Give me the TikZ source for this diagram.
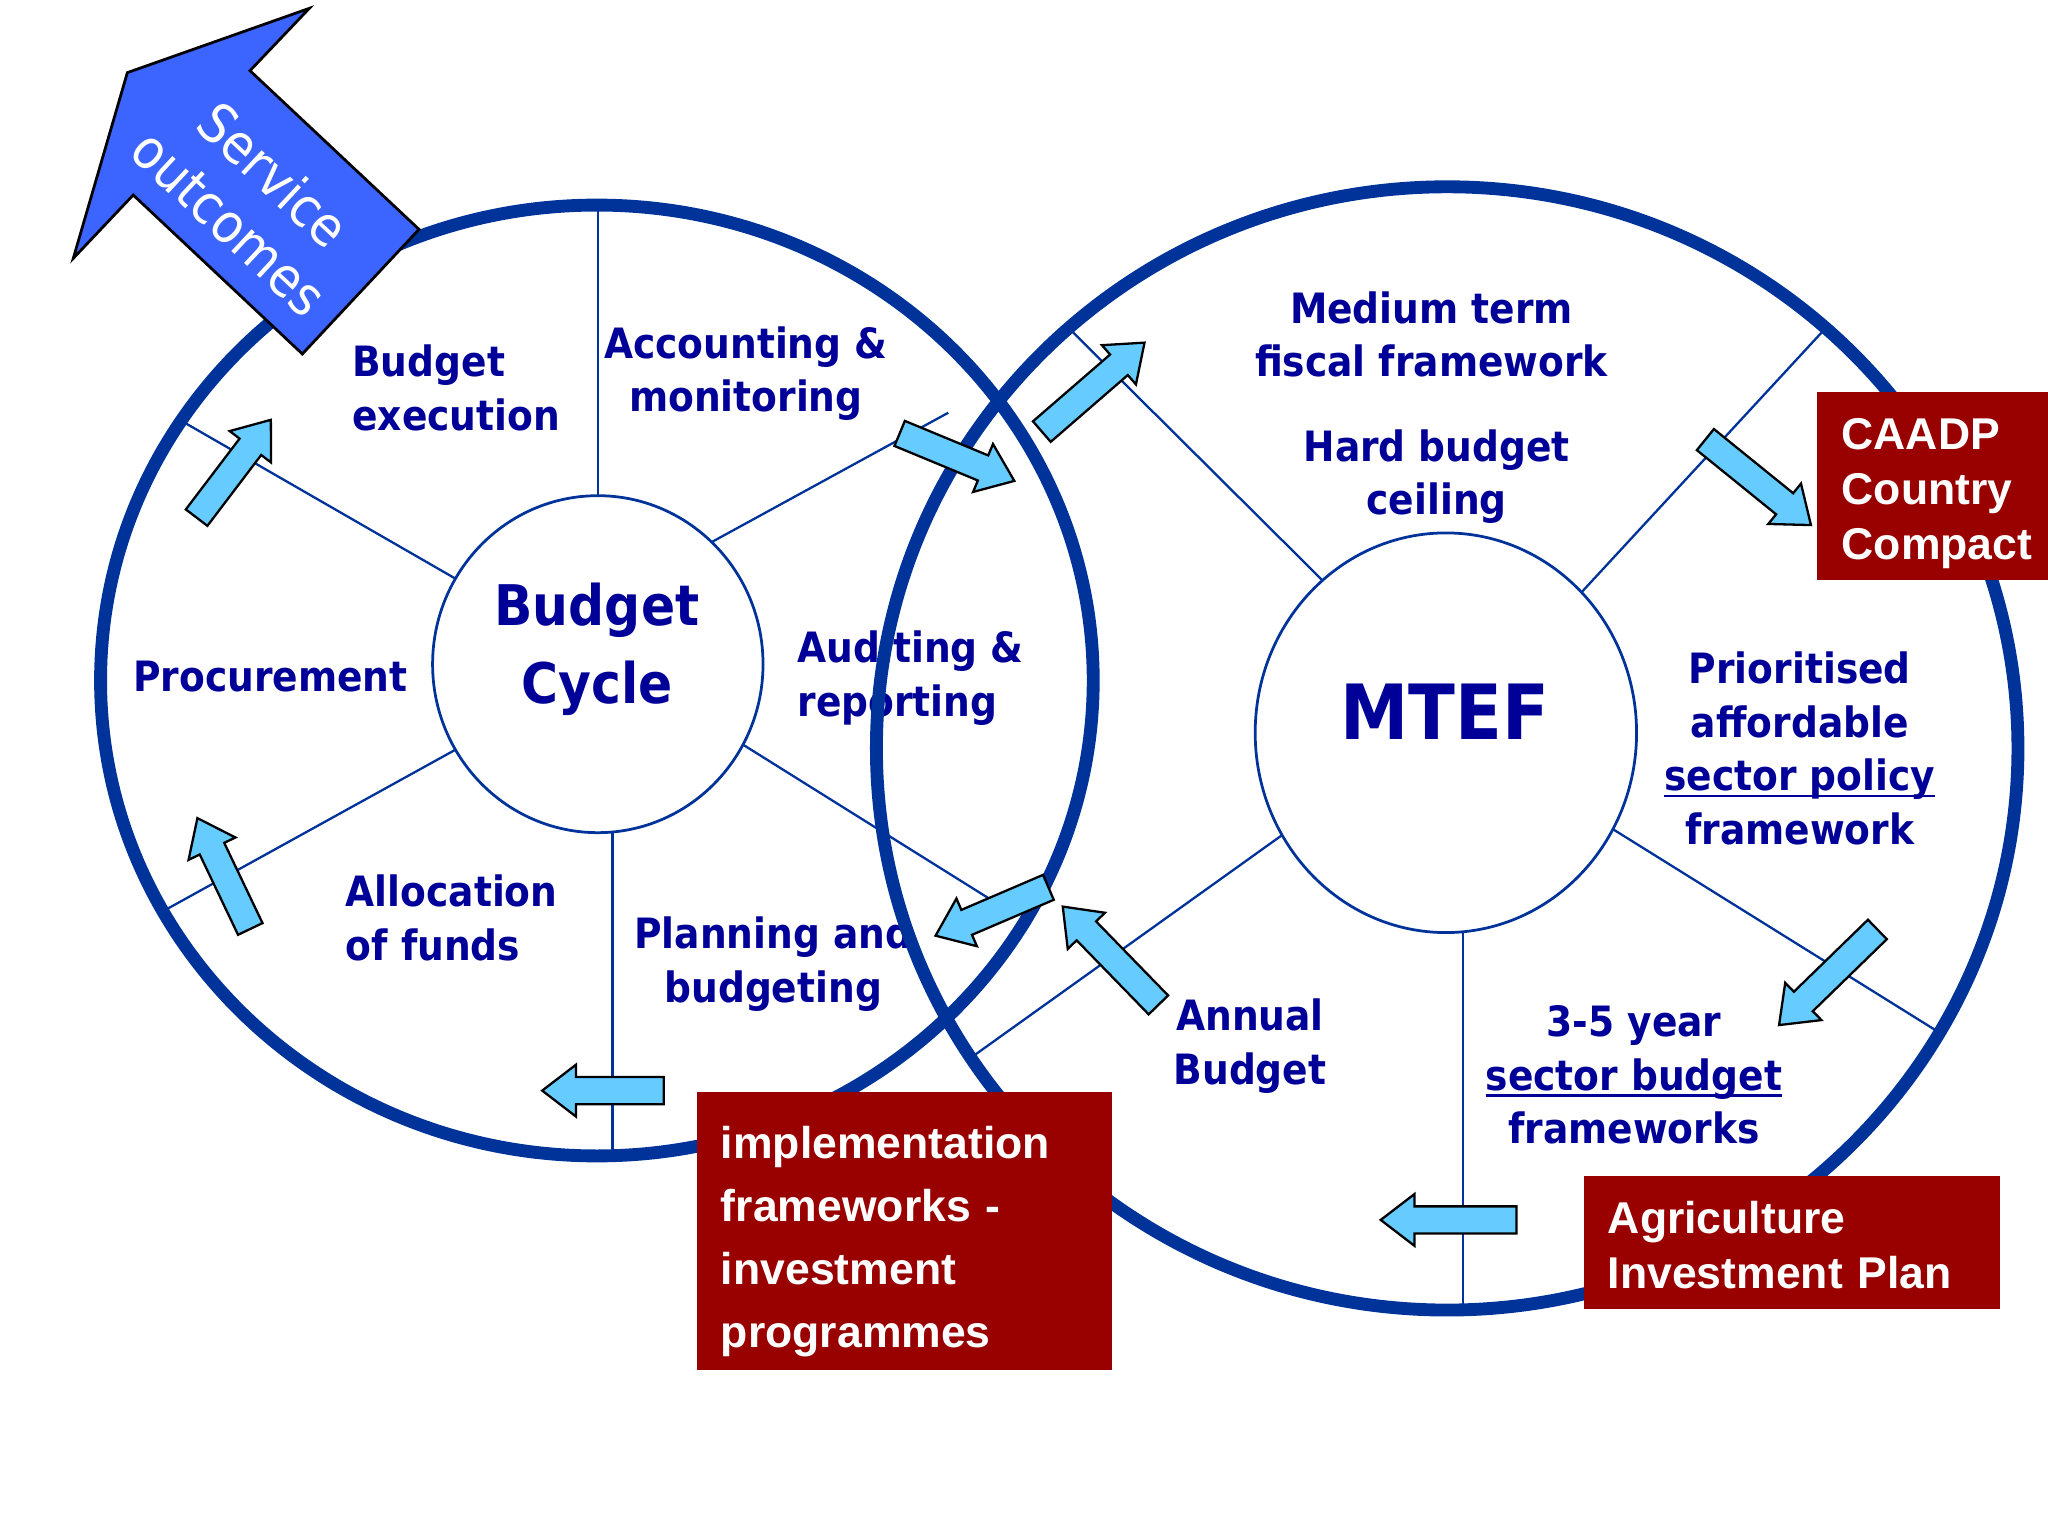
\documentclass[tikz,border=0pt]{standalone}
\usepackage{fontspec}
\setmainfont{DejaVu Sans}[FakeStretch=0.9]
\newfontfamily\boxfont{Liberation Sans}
\usetikzlibrary{shapes,arrows,positioning,calc}
\definecolor{navy}{RGB}{0,0,153}
\definecolor{ringblue}{RGB}{0,51,153}
\definecolor{flowblue}{RGB}{102,204,255}
\definecolor{outblue}{RGB}{60,100,255}
\definecolor{boxred}{RGB}{153,0,0}
\newcommand\undl[1]{\leavevmode\setbox0=\hbox{#1}\rlap{\rule[-1.4pt]{\wd0}{0.55pt}}\box0}

\begin{document}
\begin{tikzpicture}[
  x=0.1mm, y=-0.1mm,
  lbl/.style={text=navy, font=\bfseries\fontsize{9.1}{11.7}\selectfont, inner sep=0pt, align=center},
  ring/.style={ellipse, draw=ringblue, line width=2.8pt, inner sep=0pt, outer sep=0pt},
  hub/.style={ellipse, draw=ringblue, line width=0.6pt, inner sep=0pt, outer sep=0pt},
  spoke/.style={draw=ringblue, line width=0.5pt},
  flow/.style={single arrow, draw=black, line width=0.5pt, fill=flowblue, inner xsep=0pt, inner ysep=0.95mm, single arrow head extend=0.95mm, single arrow tip angle=75, minimum width=0pt, anchor=tail},
  outarrow/.style={fill=outblue, draw=black, line width=0.6pt},
  redbox/.style={fill=boxred, text=white, font=\boxfont\bfseries\fontsize{9.7}{12}\selectfont, align=left, inner xsep=0pt, inner ysep=0pt}
]
\useasboundingbox (0,0) rectangle (1568,1176);

% labels of the budget cycle
\node[lbl, align=left, anchor=west] (exec) at (269,297) {Budget\\execution};
\node[lbl] (acct) at (571,286) {Accounting \&\\monitoring};
\node[lbl, align=left, anchor=west] (audit) at (610,519) {Auditing \&\\reporting};
\node[lbl] (proc) at (207,518) {Procurement};
\node[lbl, align=left, anchor=west] (alloc) at (264,703) {Allocation\\of funds};
\node[lbl] (plan) at (592,738) {Planning and\\budgeting};
\node[lbl, font=\bfseries\fontsize{12.2}{17}\selectfont] (cycle) at (457,497) {Budget\\Cycle};

% labels of the MTEF
\node[lbl] (mtfw) at (1096,256) {Medium term\\fiscal framework};
\node[lbl] (hard) at (1100,365) {Hard budget\\ceiling};
\node[lbl, font=\bfseries\fontsize{16.6}{20}\selectfont] (mtef) at (1106,545) {MTEF};
\node[lbl] (prio) at (1378,573) {Prioritised\\affordable\\\undl{sector policy}\\framework};
\node[lbl] (annual) at (957,801) {Annual\\Budget};
\node[lbl] (sector) at (1251,823) {3-5 year\\\undl{sector budget}\\frameworks};

% rings and hubs
\node[ring, minimum width=76mm, minimum height=72.8mm] (ringL) at (457,521) {};
\node[ring, minimum width=87.4mm, minimum height=86mm] (ringR) at (1108,573) {};
\node[hub, minimum width=25.3mm, minimum height=25.8mm] (hubL) at (457.7,508.5) {};
\node[hub, minimum width=29.2mm, minimum height=30.6mm] (hubR) at (1107,561) {};

\coordinate (endUR) at (726,316);
\coordinate (endLR) at (759,689);
\draw[spoke] (hubL.north) -- (hubL.north |- ringL.north);
\draw[spoke] (hubL.149) -- (ringL.148.5);
\draw[spoke] (hubL.211.7) -- (ringL.208.9);
\draw[spoke] (hubL.275) -- (hubL.275 |- ringL.south);
\draw[spoke] (hubL.47) -- (endUR);
\draw[spoke] (hubL.-29.5) -- (endLR);

\draw[spoke] (hubR.129) -- (ringR.132);
\draw[spoke] (hubR.46.6) -- (ringR.48.8);
\draw[spoke] (hubR.-30.3) -- (ringR.-30.3);
\draw[spoke] (hubR.275) -- (hubR.275 |- ringR.south);
\draw[spoke] (hubR.212.3) -- (ringR.213.5);

% flow arrows
\node[flow, rotate=52.8, minimum height=9.4mm] (a1) at (150,397) {};
\node[flow, rotate=115.5, minimum height=9.4mm] (a2) at (192,712) {};
\node[flow, rotate=180, minimum height=9.3mm] (a3) at (509,835) {};
\node[flow, rotate=-22.5, minimum height=9.5mm] (a4) at (688,331.5) {};
\node[flow, rotate=40.9, minimum height=10.4mm] (a5) at (797,331) {};
\node[flow, rotate=-39, minimum height=10.4mm] (a6) at (1305,336) {};
\node[flow, rotate=-135.8, minimum height=10.5mm] (a7) at (1438,711) {};
\node[flow, rotate=180, minimum height=10.4mm] (a8) at (1162,934) {};
\node[flow, rotate=134.2, minimum height=10.5mm] (a9) at (887.5,770) {};
\node[flow, rotate=-156.8, minimum height=9.4mm] (a10) at (803.5,679) {};

% service outcomes
\draw[outarrow] (236.8,6.4) -- (97.5,55.6) -- (56.1,197.8) -- (102,149.3) -- (231.5,271) -- (320.8,175.6) -- (191.4,54.1) -- cycle;
\node[text=white, rotate=-43, align=center, font=\fontsize{11.9}{14.2}\selectfont, inner sep=0pt] (svc) at (193,152) {Service\\outcomes};

% red boxes
\node[redbox, minimum width=17.7mm, minimum height=14.4mm, text width=13.9mm] (caadp) at (1479.5,372) {\rule{0pt}{10.3pt}CAADP\\Country\\Compact};
\node[redbox, minimum width=31.7mm, minimum height=21.3mm, text width=28.1mm, font=\boxfont\bfseries\fontsize{9.7}{13.7}\selectfont] (impl) at (692.5,942.5) {\rule{0pt}{11.6pt}implementation\\frameworks -\\investment\\programmes};
\node[redbox, minimum width=31.8mm, minimum height=10.2mm, text width=28.2mm] (aip) at (1372,951) {\rule{0pt}{8.2pt}Agriculture\\Investment Plan};
\end{tikzpicture}
\end{document}
